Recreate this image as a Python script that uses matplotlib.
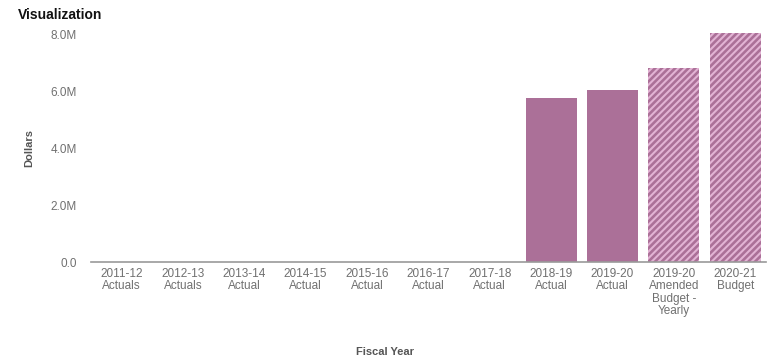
import matplotlib.pyplot as plt

# Fiscal years and dollar amounts
years = ["2011-12\nActuals", "2012-13\nActuals", "2013-14\nActual", "2014-15\nActual",
         "2015-16\nActual", "2016-17\nActual", "2017-18\nActual", "2018-19\nActual",
         "2019-20\nActual", "2019-20\nAmended\nBudget -\nYearly", "2020-21\nBudget"]
dollars = [0, 0, 0, 0, 0, 0, 0, 5.75e6, 6.04e6, 6.82e6, 8.04e6]
budget = [False, False, False, False, False, False, False, False, False, True, True]

plt.rcParams['font.family'] = ['Liberation Sans', 'DejaVu Sans']
plt.rcParams['hatch.linewidth'] = 1.5

fig = plt.figure(figsize=(7.69, 3.63), dpi=100)
ax = fig.add_axes([0.118, 0.278, 0.878, 0.628])

x = range(len(years))
for i, v in enumerate(dollars):
    if budget[i]:
        # budgeted years get a striped fill
        ax.bar(i, v, width=0.83, color='#ab7098', edgecolor='#e2b3d4',
               hatch='/////', linewidth=0, clip_on=False)
    else:
        ax.bar(i, v, width=0.83, color='#ab7098', linewidth=0, clip_on=False)

ax.set_xlim(-0.5, len(years) - 0.5)
ax.set_ylim(0, 8e6)
ax.set_yticks([0, 2e6, 4e6, 6e6, 8e6])
ax.set_yticklabels(["0.0", "2.0M", "4.0M", "6.0M", "8.0M"])
ax.set_xticks(list(x))
ax.set_xticklabels(years, linespacing=1.05)

for s in ['top', 'right', 'left']:
    ax.spines[s].set_visible(False)
ax.spines['bottom'].set_color('#999999')
ax.spines['bottom'].set_linewidth(1.2)
ax.tick_params(axis='both', length=0, labelsize=8.5, labelcolor='#707070')
ax.tick_params(axis='x', pad=4)
ax.tick_params(axis='y', pad=10)

ax.set_ylabel("Dollars", fontsize=8, color='#555555', fontweight='bold', labelpad=12)
fig.text(0.5, 0.03, "Fiscal Year", fontsize=8, color='#555555', fontweight='bold',
         ha='center', va='center')
fig.text(0.023, 0.96, "Visualization", fontsize=10, color='#111111', fontweight='bold',
         ha='left', va='center')

fig.savefig("out.png", dpi=100)
